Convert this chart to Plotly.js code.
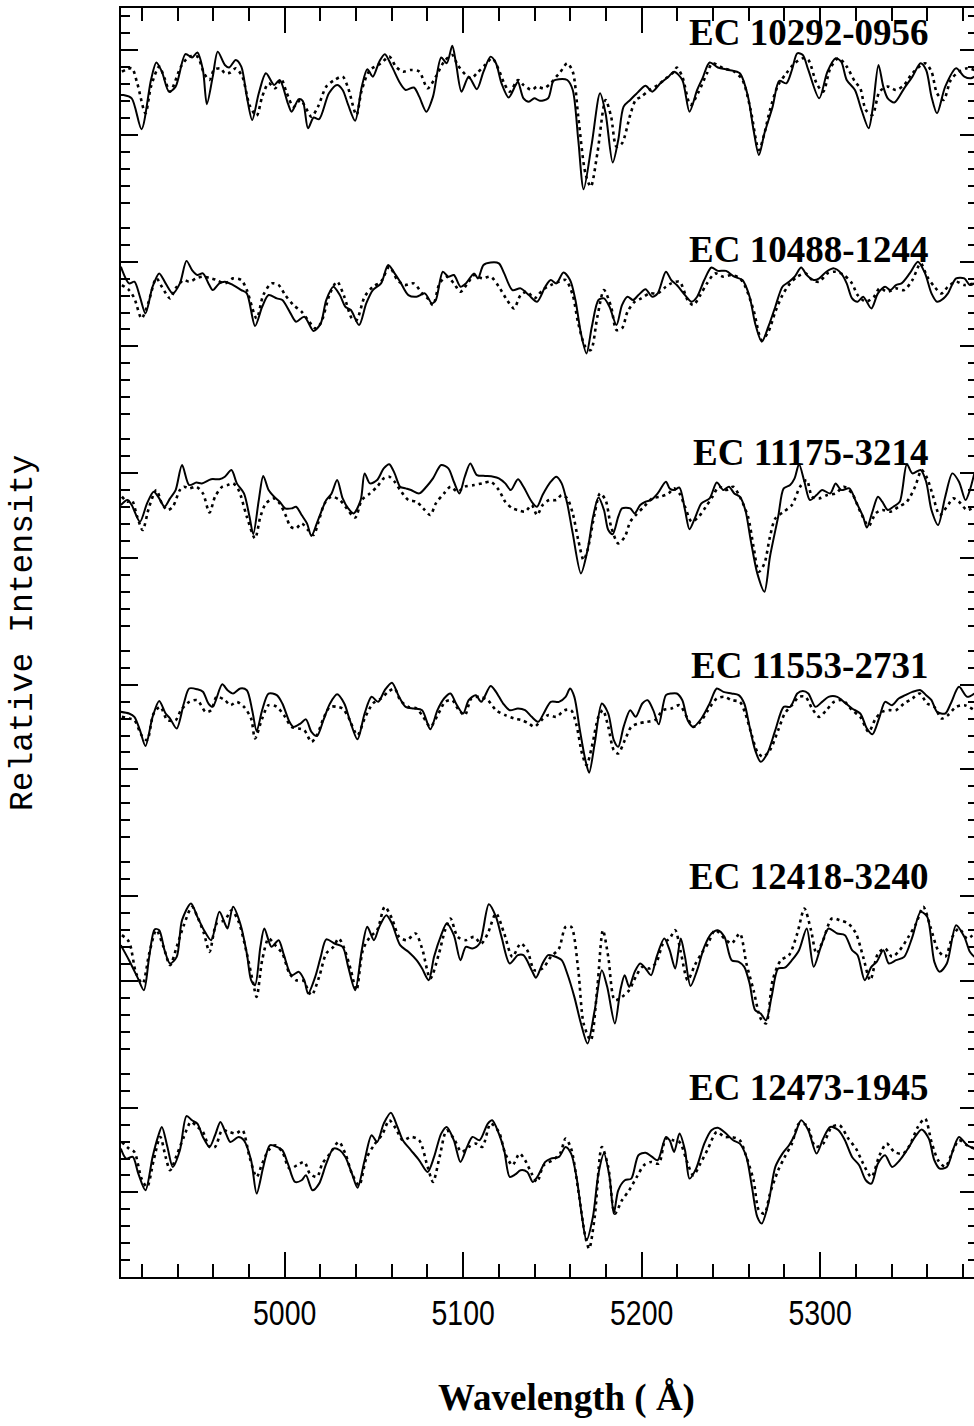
<!DOCTYPE html>
<html>
<head>
<meta charset="utf-8">
<script src="https://cdn.plot.ly/plotly-3.0.1.min.js"></script>
<style>
html,body{margin:0;padding:0;background:#fff;overflow:hidden;}
#chart{width:980px;height:1426px;}
</style>
</head>
<body>
<div id="chart"></div>
<script>
// ---------------- DATA ----------------
const labels = ['EC 10292-0956','EC 10488-1244','EC 11175-3214','EC 11553-2731','EC 12418-3240','EC 12473-1945'];

const s1_wave = [4908.2,4909.7,4914.3,4919.8,4925.1,4928.1,4931.2,4935.2,4938.9,4944.4,4948.1,4951.1,4954.2,4956.4,4959.7,4962.5,4966.5,4968.9,4972.6,4975.7,4978.8,4981.8,4985.5,4989.5,4994.1,4997.2,5001.8,5003.9,5007.9,5010.1,5013.1,5016.2,5019.3,5024.8,5029.4,5032.5,5035.6,5039.5,5043.2,5046.3,5049.4,5053.0,5056.1,5060.1,5064.7,5067.8,5072.4,5075.4,5079.4,5083.1,5087.7,5090.8,5093.9,5096.0,5099.1,5103.1,5107.7,5111.4,5115.4,5118.4,5121.5,5125.5,5129.2,5130.7,5133.8,5136.8,5139.9,5143.0,5147.6,5150.6,5153.7,5158.3,5161.4,5164.5,5167.5,5172.1,5176.7,5179.8,5183.8,5186.9,5189.9,5193.6,5198.2,5202.2,5205.9,5210.5,5215.1,5218.2,5222.8,5226.8,5231.1,5234.1,5238.1,5242.7,5248.9,5255.0,5259.6,5262.7,5265.7,5268.8,5273.4,5277.1,5281.1,5284.2,5287.2,5290.3,5293.4,5299.5,5304.1,5308.7,5311.8,5314.9,5319.5,5323.2,5327.2,5329.6,5332.7,5335.4,5337.9,5341.6,5347.1,5351.7,5356.3,5359.4,5362.4,5365.5,5370.1,5376.2,5380.8,5384.5,5386.4];
const s1_flux = [0.894,0.894,0.886,0.812,0.930,0.972,0.950,0.902,0.914,0.992,0.984,0.996,0.954,0.872,0.938,0.998,0.966,0.960,0.978,0.962,0.890,0.834,0.898,0.946,0.918,0.930,0.874,0.854,0.884,0.880,0.814,0.840,0.836,0.898,0.918,0.906,0.870,0.832,0.914,0.956,0.938,0.974,0.992,0.962,0.922,0.906,0.912,0.890,0.854,0.890,0.984,0.970,1.012,0.970,0.902,0.938,0.908,0.950,0.986,0.970,0.922,0.888,0.916,0.926,0.886,0.878,0.886,0.880,0.886,0.928,0.932,0.930,0.906,0.786,0.668,0.778,0.898,0.850,0.732,0.786,0.866,0.882,0.902,0.916,0.902,0.922,0.938,0.950,0.930,0.854,0.906,0.934,0.972,0.960,0.954,0.946,0.890,0.810,0.750,0.802,0.866,0.928,0.922,0.954,0.994,0.990,0.954,0.886,0.950,0.982,0.974,0.930,0.906,0.858,0.814,0.866,0.966,0.914,0.886,0.876,0.910,0.938,0.970,0.954,0.890,0.850,0.914,0.958,0.938,0.934,0.938];
const m1_wave = [4908.8,4914.3,4917.4,4922.0,4925.1,4929.7,4932.7,4935.8,4941.9,4946.5,4951.1,4954.8,4957.9,4960.4,4964.0,4966.5,4969.6,4972.6,4976.3,4980.3,4984.3,4987.4,4991.0,4994.7,4998.1,5000.9,5004.9,5008.8,5011.0,5015.0,5018.7,5023.3,5027.9,5032.5,5035.6,5040.2,5043.2,5047.8,5054.0,5058.6,5062.3,5066.2,5070.8,5075.4,5080.1,5084.7,5089.3,5093.9,5096.9,5101.5,5104.6,5107.7,5112.3,5116.3,5120.0,5123.0,5126.1,5130.7,5133.8,5138.4,5141.4,5145.1,5149.1,5152.2,5154.3,5158.3,5161.4,5164.5,5168.5,5171.5,5175.2,5179.8,5182.9,5185.9,5189.0,5193.6,5196.7,5199.8,5204.4,5209.0,5213.6,5218.2,5219.7,5222.8,5227.4,5232.0,5236.6,5239.7,5245.8,5251.9,5256.5,5261.1,5265.7,5268.8,5271.9,5276.5,5281.1,5285.7,5290.3,5293.4,5298.0,5301.7,5305.7,5310.3,5314.9,5319.5,5322.5,5325.6,5329.3,5333.3,5337.9,5342.5,5347.1,5351.7,5358.8,5362.4,5365.5,5369.2,5373.2,5377.8,5382.4,5386.4];
const m1_flux = [0.950,0.958,0.922,0.850,0.914,0.962,0.934,0.902,0.962,0.986,0.986,0.946,0.930,0.954,0.958,0.946,0.948,0.958,0.938,0.870,0.844,0.890,0.922,0.910,0.932,0.902,0.866,0.882,0.870,0.842,0.866,0.914,0.930,0.938,0.910,0.846,0.906,0.954,0.970,0.986,0.962,0.950,0.954,0.950,0.910,0.938,0.974,0.990,0.966,0.942,0.934,0.946,0.966,0.982,0.954,0.922,0.902,0.930,0.918,0.906,0.914,0.910,0.922,0.938,0.948,0.970,0.950,0.842,0.706,0.674,0.754,0.882,0.842,0.770,0.778,0.846,0.882,0.890,0.906,0.918,0.934,0.950,0.960,0.938,0.870,0.902,0.946,0.970,0.958,0.950,0.930,0.858,0.762,0.802,0.858,0.918,0.946,0.970,0.982,0.978,0.922,0.902,0.958,0.982,0.962,0.926,0.910,0.858,0.846,0.902,0.914,0.906,0.918,0.946,0.970,0.950,0.898,0.882,0.930,0.950,0.958,0.954];

const s2_wave = [4908.2,4912.8,4915.8,4918.9,4922.0,4926.0,4929.7,4933.3,4937.3,4941.3,4945.0,4948.1,4951.1,4954.2,4957.3,4959.7,4963.4,4966.5,4971.1,4975.7,4978.8,4983.4,4987.4,4991.0,4995.6,4998.7,5003.3,5006.4,5011.0,5016.2,5020.2,5023.3,5027.3,5030.9,5034.0,5037.1,5041.7,5045.7,5049.4,5054.0,5058.0,5061.6,5064.7,5069.3,5073.9,5078.5,5082.5,5084.7,5088.6,5091.7,5094.8,5098.5,5101.5,5106.1,5108.3,5111.4,5115.4,5120.0,5123.0,5127.6,5132.2,5136.8,5141.4,5146.0,5149.1,5152.2,5156.2,5159.9,5162.9,5166.0,5169.1,5172.1,5175.8,5178.9,5182.0,5185.9,5189.0,5192.1,5195.2,5198.2,5202.2,5205.9,5209.0,5213.6,5216.6,5219.7,5224.3,5228.0,5231.1,5235.1,5239.1,5242.7,5247.3,5251.9,5256.5,5260.5,5263.6,5267.3,5271.0,5274.9,5278.9,5282.6,5285.7,5289.4,5292.5,5296.4,5299.5,5303.5,5307.8,5311.8,5314.9,5317.9,5321.0,5324.1,5328.7,5332.4,5336.4,5339.4,5342.5,5345.6,5350.2,5354.8,5358.8,5362.4,5365.5,5369.2,5371.6,5376.2,5380.8,5383.9,5386.4];
const s2_flux = [0.986,0.946,0.950,0.914,0.874,0.938,0.970,0.946,0.922,0.946,1.000,0.978,0.966,0.970,0.946,0.930,0.946,0.950,0.942,0.930,0.922,0.844,0.890,0.918,0.910,0.906,0.874,0.854,0.866,0.832,0.850,0.906,0.938,0.918,0.890,0.882,0.846,0.898,0.930,0.946,0.990,0.970,0.950,0.918,0.914,0.922,0.898,0.906,0.974,0.962,0.966,0.938,0.946,0.970,0.958,0.990,0.996,0.994,0.970,0.930,0.934,0.918,0.902,0.938,0.954,0.946,0.972,0.954,0.906,0.826,0.778,0.842,0.906,0.910,0.890,0.846,0.894,0.914,0.906,0.918,0.932,0.914,0.922,0.974,0.954,0.942,0.918,0.902,0.914,0.954,0.984,0.976,0.976,0.962,0.954,0.914,0.850,0.806,0.842,0.890,0.938,0.950,0.962,0.984,0.966,0.954,0.958,0.974,0.982,0.970,0.946,0.910,0.902,0.914,0.886,0.922,0.938,0.930,0.942,0.946,0.970,0.998,0.970,0.922,0.902,0.910,0.922,0.958,0.958,0.942,0.946];
const m2_wave = [4908.8,4912.8,4915.8,4919.8,4923.5,4928.1,4931.2,4935.8,4938.9,4943.5,4946.5,4950.5,4954.2,4958.8,4961.9,4966.5,4971.1,4975.7,4978.8,4984.3,4988.0,4992.6,4996.6,5000.3,5004.9,5009.5,5013.1,5017.1,5020.2,5025.4,5029.4,5033.4,5037.7,5040.2,5044.8,5049.4,5054.0,5058.6,5063.2,5067.2,5072.4,5077.0,5080.1,5083.1,5086.8,5090.8,5094.8,5098.5,5103.1,5106.1,5110.7,5115.4,5120.0,5124.6,5128.5,5132.2,5135.9,5139.9,5144.5,5149.1,5153.7,5157.4,5161.4,5164.5,5168.5,5171.5,5175.2,5178.9,5182.9,5185.9,5189.0,5192.1,5196.1,5199.8,5204.4,5209.0,5213.6,5216.6,5221.2,5225.8,5228.9,5232.9,5236.6,5241.2,5245.8,5250.4,5255.0,5258.1,5262.7,5267.3,5271.0,5274.9,5278.9,5283.2,5287.2,5291.8,5295.5,5299.5,5304.1,5308.7,5313.3,5317.9,5321.0,5325.6,5330.2,5333.3,5337.9,5342.5,5347.1,5351.7,5356.3,5360.0,5364.0,5368.0,5371.6,5376.2,5380.8,5386.4];
const m2_flux = [0.942,0.930,0.910,0.862,0.898,0.958,0.938,0.910,0.934,0.954,0.950,0.958,0.962,0.958,0.954,0.946,0.958,0.954,0.930,0.862,0.918,0.946,0.942,0.918,0.894,0.878,0.858,0.838,0.850,0.922,0.950,0.914,0.862,0.858,0.914,0.938,0.950,0.986,0.954,0.942,0.946,0.922,0.910,0.894,0.946,0.962,0.946,0.926,0.950,0.966,0.958,0.962,0.938,0.906,0.886,0.918,0.926,0.910,0.930,0.942,0.950,0.954,0.918,0.850,0.794,0.786,0.866,0.930,0.890,0.834,0.838,0.878,0.902,0.910,0.922,0.922,0.938,0.946,0.950,0.906,0.894,0.918,0.946,0.970,0.962,0.966,0.958,0.938,0.882,0.810,0.830,0.878,0.918,0.946,0.962,0.970,0.954,0.950,0.970,0.974,0.966,0.946,0.918,0.902,0.914,0.934,0.926,0.934,0.930,0.954,0.994,0.962,0.938,0.922,0.938,0.950,0.942,0.946];

const s3_wave = [4908.2,4911.9,4914.3,4918.9,4922.9,4926.6,4929.7,4932.7,4935.8,4938.9,4942.5,4946.5,4950.5,4953.6,4958.8,4963.4,4966.5,4970.2,4973.2,4977.2,4980.3,4982.4,4985.5,4988.0,4991.0,4994.1,4997.2,5000.3,5003.9,5006.4,5009.5,5012.5,5015.0,5018.7,5023.3,5026.3,5029.4,5032.5,5035.6,5038.6,5042.6,5044.8,5047.8,5051.8,5055.5,5058.6,5061.6,5064.7,5067.8,5070.8,5075.4,5079.4,5083.1,5087.7,5091.7,5094.8,5097.9,5100.9,5104.0,5107.7,5112.3,5116.9,5120.0,5123.6,5126.7,5130.7,5133.8,5138.4,5141.4,5144.5,5149.1,5152.2,5155.2,5158.3,5161.4,5166.0,5169.7,5172.8,5175.8,5178.9,5181.3,5183.8,5186.9,5189.0,5193.6,5196.1,5199.2,5202.2,5205.3,5209.0,5213.6,5215.7,5218.2,5221.2,5224.3,5226.8,5229.8,5233.5,5238.1,5242.1,5245.8,5248.9,5251.9,5255.0,5258.1,5261.1,5264.8,5268.8,5271.9,5276.5,5279.6,5283.2,5285.7,5288.2,5291.2,5294.3,5298.0,5301.1,5305.7,5308.7,5311.8,5316.4,5320.1,5324.1,5326.2,5329.3,5332.4,5334.8,5337.9,5341.0,5344.6,5348.6,5351.7,5356.3,5359.4,5362.4,5366.1,5370.1,5374.1,5377.8,5381.5,5383.9,5386.4];
const s3_flux = [0.894,0.906,0.894,0.854,0.898,0.926,0.910,0.890,0.910,0.930,0.990,0.942,0.948,0.946,0.956,0.956,0.962,0.978,0.946,0.922,0.866,0.824,0.906,0.964,0.930,0.914,0.902,0.886,0.886,0.890,0.870,0.850,0.820,0.858,0.906,0.922,0.954,0.910,0.886,0.874,0.906,0.970,0.946,0.954,0.982,0.992,0.970,0.938,0.934,0.930,0.922,0.938,0.958,0.990,0.982,0.950,0.922,0.962,0.994,0.966,0.964,0.962,0.958,0.946,0.930,0.956,0.938,0.902,0.890,0.918,0.950,0.962,0.946,0.898,0.826,0.730,0.786,0.866,0.912,0.882,0.834,0.824,0.866,0.886,0.886,0.874,0.894,0.902,0.906,0.922,0.950,0.934,0.930,0.936,0.882,0.836,0.862,0.898,0.910,0.948,0.930,0.938,0.922,0.914,0.882,0.810,0.730,0.686,0.770,0.866,0.934,0.942,0.958,0.992,0.950,0.906,0.918,0.930,0.922,0.946,0.930,0.934,0.902,0.866,0.840,0.878,0.914,0.902,0.882,0.890,0.902,0.992,0.970,0.978,0.950,0.882,0.846,0.914,0.970,0.950,0.906,0.930,0.970];
const m3_wave = [4908.8,4911.9,4914.3,4917.4,4920.4,4924.1,4928.1,4931.2,4934.3,4937.3,4941.3,4943.5,4946.5,4950.5,4954.2,4957.9,4961.0,4965.0,4968.0,4971.1,4974.2,4978.8,4983.4,4986.4,4989.5,4994.1,4997.2,5000.9,5003.3,5006.4,5009.5,5013.1,5016.2,5018.7,5022.4,5026.3,5030.9,5034.0,5039.5,5043.2,5047.8,5051.8,5055.5,5058.6,5061.6,5064.7,5069.3,5073.9,5077.6,5081.6,5084.7,5089.3,5092.9,5096.9,5100.9,5106.1,5110.7,5115.4,5120.0,5123.6,5127.6,5130.7,5134.7,5138.4,5141.4,5144.5,5148.2,5152.2,5155.2,5158.3,5161.4,5164.5,5167.5,5169.7,5173.7,5176.7,5179.8,5182.9,5186.9,5190.6,5193.6,5196.7,5201.3,5205.9,5210.5,5215.1,5218.2,5221.2,5224.3,5228.0,5232.0,5236.0,5239.7,5243.3,5247.3,5251.3,5255.0,5259.6,5262.7,5265.7,5268.8,5271.9,5274.9,5279.6,5284.2,5288.8,5292.5,5295.5,5299.5,5304.1,5308.7,5313.3,5317.9,5322.5,5327.2,5331.1,5334.8,5339.4,5344.0,5348.6,5353.2,5356.9,5360.0,5363.1,5367.0,5371.0,5374.7,5377.8,5382.4,5386.4];
const m3_flux = [0.914,0.902,0.906,0.866,0.834,0.890,0.930,0.898,0.882,0.890,0.930,0.938,0.934,0.938,0.922,0.876,0.914,0.938,0.942,0.946,0.930,0.866,0.814,0.866,0.898,0.910,0.898,0.866,0.842,0.838,0.850,0.834,0.822,0.850,0.898,0.914,0.906,0.890,0.864,0.906,0.922,0.938,0.958,0.962,0.950,0.930,0.906,0.902,0.886,0.870,0.898,0.922,0.938,0.926,0.938,0.942,0.946,0.950,0.930,0.902,0.886,0.882,0.878,0.894,0.870,0.894,0.906,0.906,0.918,0.910,0.874,0.810,0.762,0.786,0.874,0.922,0.906,0.842,0.802,0.818,0.854,0.870,0.890,0.910,0.914,0.922,0.934,0.922,0.890,0.854,0.866,0.890,0.914,0.938,0.930,0.938,0.914,0.866,0.794,0.734,0.754,0.818,0.862,0.878,0.894,0.938,0.954,0.914,0.910,0.918,0.922,0.938,0.922,0.878,0.844,0.874,0.882,0.878,0.890,0.902,0.938,0.978,0.958,0.918,0.870,0.890,0.910,0.902,0.882,0.890];

const s4_wave = [4908.2,4912.8,4915.8,4918.9,4922.0,4926.0,4929.7,4933.3,4935.8,4939.5,4943.5,4946.5,4951.1,4954.2,4957.3,4959.7,4965.0,4968.0,4971.1,4975.1,4978.8,4981.8,4984.3,4987.4,4991.0,4995.6,4998.7,5002.7,5004.9,5008.8,5011.9,5015.0,5018.1,5021.7,5025.4,5029.4,5033.4,5036.5,5040.8,5044.8,5048.7,5052.4,5056.1,5060.1,5064.1,5067.8,5072.4,5077.0,5081.6,5085.6,5089.3,5092.9,5096.0,5100.0,5103.1,5107.1,5110.1,5115.4,5118.4,5122.4,5126.1,5130.7,5134.7,5138.4,5142.1,5145.1,5149.1,5153.7,5157.4,5159.9,5162.3,5165.4,5168.5,5170.6,5173.7,5177.7,5181.3,5184.4,5186.9,5189.9,5193.6,5196.7,5200.4,5203.4,5206.5,5209.6,5213.6,5216.6,5219.7,5222.8,5225.8,5228.9,5233.5,5238.1,5242.1,5245.8,5250.4,5254.4,5257.5,5260.5,5263.6,5266.7,5270.4,5274.9,5279.6,5283.2,5287.2,5290.3,5293.4,5297.4,5301.1,5304.7,5309.6,5313.3,5317.9,5322.5,5326.2,5329.3,5333.3,5336.4,5340.3,5344.0,5347.7,5351.7,5356.3,5359.4,5362.4,5365.5,5370.1,5373.2,5377.8,5382.4,5386.4];
const s4_flux = [0.926,0.922,0.914,0.882,0.844,0.914,0.952,0.922,0.910,0.886,0.946,0.982,0.980,0.974,0.946,0.938,0.992,0.978,0.970,0.982,0.978,0.930,0.880,0.930,0.970,0.966,0.946,0.902,0.890,0.898,0.908,0.878,0.868,0.906,0.946,0.968,0.946,0.906,0.860,0.922,0.962,0.950,0.978,0.996,0.962,0.938,0.934,0.930,0.884,0.930,0.958,0.970,0.946,0.922,0.954,0.966,0.950,0.988,0.974,0.946,0.930,0.934,0.930,0.914,0.902,0.922,0.950,0.950,0.962,0.982,0.962,0.882,0.810,0.780,0.850,0.946,0.922,0.858,0.842,0.890,0.930,0.914,0.946,0.954,0.930,0.896,0.966,0.970,0.970,0.954,0.906,0.890,0.910,0.946,0.982,0.974,0.970,0.966,0.946,0.890,0.834,0.806,0.826,0.882,0.938,0.938,0.970,0.976,0.970,0.938,0.950,0.962,0.962,0.950,0.934,0.922,0.886,0.872,0.914,0.950,0.942,0.958,0.966,0.974,0.978,0.966,0.954,0.926,0.922,0.946,0.986,0.962,0.970];
const m4_wave = [4908.8,4912.8,4915.8,4919.8,4922.9,4926.6,4930.3,4934.3,4938.9,4941.9,4946.5,4951.1,4955.7,4958.8,4961.9,4966.5,4969.6,4973.2,4977.2,4981.2,4983.4,4987.4,4991.0,4995.6,4999.6,5003.9,5007.9,5011.0,5015.0,5018.1,5021.7,5025.4,5029.4,5032.5,5035.6,5040.8,5044.8,5049.4,5054.0,5058.0,5061.6,5064.7,5069.3,5073.9,5077.6,5081.6,5086.2,5089.9,5093.9,5096.9,5100.9,5104.6,5109.2,5113.8,5118.4,5123.6,5128.5,5132.8,5136.8,5139.9,5143.9,5147.6,5152.2,5156.8,5160.5,5163.5,5166.6,5169.1,5172.1,5175.8,5178.3,5181.3,5184.4,5186.9,5190.6,5194.2,5198.2,5202.8,5207.4,5212.0,5216.6,5221.2,5225.8,5228.9,5232.9,5237.2,5242.1,5246.4,5250.4,5255.0,5258.1,5261.7,5264.8,5267.9,5271.9,5276.5,5280.2,5284.2,5288.2,5291.8,5295.5,5299.5,5303.5,5307.8,5312.7,5317.9,5322.5,5327.2,5331.1,5334.8,5338.5,5342.5,5347.1,5351.7,5355.7,5360.0,5364.0,5368.0,5371.6,5376.2,5380.8,5386.4];
const m4_flux = [0.914,0.910,0.906,0.870,0.858,0.922,0.938,0.906,0.906,0.930,0.950,0.954,0.926,0.930,0.962,0.954,0.942,0.950,0.938,0.910,0.862,0.910,0.942,0.938,0.918,0.890,0.886,0.882,0.854,0.870,0.910,0.938,0.938,0.934,0.914,0.870,0.910,0.946,0.958,0.974,0.982,0.954,0.938,0.934,0.914,0.890,0.922,0.950,0.954,0.934,0.918,0.958,0.962,0.954,0.930,0.918,0.910,0.906,0.898,0.890,0.906,0.918,0.914,0.930,0.930,0.894,0.826,0.798,0.842,0.914,0.930,0.890,0.834,0.826,0.858,0.890,0.898,0.902,0.906,0.930,0.934,0.942,0.910,0.890,0.902,0.930,0.958,0.962,0.954,0.950,0.922,0.870,0.830,0.818,0.834,0.882,0.922,0.942,0.962,0.962,0.934,0.914,0.930,0.950,0.954,0.930,0.914,0.878,0.910,0.926,0.930,0.930,0.946,0.958,0.970,0.946,0.938,0.910,0.918,0.938,0.942,0.930];

const s5_wave = [4908.2,4912.8,4917.4,4921.1,4924.1,4927.2,4929.7,4932.7,4935.8,4939.5,4942.5,4947.5,4951.1,4954.8,4958.8,4963.4,4966.5,4968.0,4971.1,4975.1,4978.8,4981.2,4983.4,4986.4,4988.6,4992.6,4996.6,4999.6,5003.9,5007.9,5011.0,5013.1,5017.1,5020.2,5023.3,5027.9,5032.5,5035.6,5039.5,5043.2,5046.3,5050.0,5053.0,5057.0,5060.1,5064.7,5069.3,5073.9,5077.0,5080.7,5083.7,5087.7,5090.8,5094.8,5098.5,5101.5,5105.2,5109.2,5114.4,5118.4,5121.5,5126.1,5130.7,5133.8,5138.4,5140.8,5144.5,5147.6,5150.6,5155.2,5158.3,5162.3,5166.0,5169.7,5173.7,5177.7,5180.7,5185.0,5188.1,5190.5,5193.0,5196.1,5199.2,5202.2,5205.3,5208.4,5212.7,5215.7,5218.8,5221.9,5224.3,5227.4,5231.1,5235.1,5239.1,5242.7,5246.4,5250.4,5254.4,5257.5,5260.5,5263.6,5266.7,5269.7,5272.8,5276.5,5280.2,5284.2,5288.2,5292.5,5296.4,5300.4,5304.7,5309.6,5313.9,5317.9,5321.0,5325.0,5328.7,5331.7,5335.4,5338.5,5342.5,5347.1,5351.7,5356.3,5360.0,5364.0,5367.0,5371.0,5376.2,5380.8,5383.9,5386.4];
const s5_flux = [0.894,0.858,0.818,0.786,0.866,0.932,0.930,0.882,0.850,0.866,0.954,0.994,0.962,0.930,0.906,0.974,0.946,0.934,0.986,0.946,0.874,0.810,0.798,0.890,0.934,0.890,0.906,0.870,0.822,0.830,0.810,0.778,0.818,0.866,0.908,0.898,0.890,0.842,0.786,0.882,0.938,0.906,0.938,0.966,0.946,0.894,0.878,0.858,0.838,0.810,0.866,0.918,0.946,0.918,0.858,0.890,0.886,0.898,0.992,0.962,0.914,0.850,0.870,0.870,0.834,0.816,0.850,0.870,0.868,0.858,0.826,0.770,0.706,0.658,0.738,0.834,0.794,0.706,0.786,0.822,0.794,0.830,0.850,0.838,0.822,0.866,0.910,0.882,0.838,0.910,0.866,0.796,0.834,0.890,0.922,0.930,0.914,0.858,0.854,0.842,0.802,0.738,0.730,0.714,0.770,0.838,0.840,0.858,0.882,0.934,0.842,0.890,0.934,0.922,0.918,0.882,0.870,0.810,0.842,0.854,0.882,0.850,0.858,0.866,0.914,0.974,0.962,0.854,0.830,0.850,0.942,0.914,0.878,0.866];
const m5_wave = [4908.8,4912.8,4916.8,4920.4,4924.1,4928.1,4932.1,4935.8,4939.5,4943.5,4948.1,4951.1,4954.8,4957.9,4961.9,4966.5,4970.2,4974.2,4978.8,4982.4,4984.3,4987.4,4991.0,4994.7,4998.7,5002.7,5006.4,5010.1,5015.0,5019.3,5023.3,5027.3,5030.3,5033.4,5037.1,5040.2,5043.8,5047.8,5051.8,5056.1,5060.1,5064.1,5068.4,5073.3,5077.0,5081.6,5086.2,5089.9,5092.9,5096.9,5101.5,5106.1,5110.1,5113.8,5118.4,5123.0,5127.6,5132.2,5135.9,5139.9,5144.5,5149.1,5153.7,5157.4,5160.5,5164.5,5167.5,5171.5,5175.2,5178.3,5181.3,5185.0,5189.0,5193.0,5196.7,5200.4,5204.4,5208.4,5212.0,5215.7,5218.8,5221.9,5225.8,5229.8,5233.5,5237.2,5241.2,5246.4,5250.4,5255.0,5258.7,5262.7,5266.7,5269.7,5273.4,5278.0,5282.6,5287.2,5291.2,5294.9,5298.0,5301.7,5306.6,5310.9,5315.8,5320.1,5324.1,5328.1,5332.4,5336.4,5340.3,5344.6,5349.5,5353.8,5357.8,5361.8,5366.1,5370.1,5374.1,5377.8,5382.4,5386.4];
const m5_flux = [0.918,0.902,0.826,0.802,0.874,0.930,0.890,0.846,0.890,0.942,0.986,0.962,0.922,0.878,0.946,0.954,0.978,0.950,0.874,0.802,0.770,0.858,0.910,0.894,0.874,0.826,0.810,0.810,0.774,0.818,0.874,0.890,0.910,0.886,0.834,0.786,0.882,0.914,0.930,0.986,0.958,0.914,0.906,0.922,0.886,0.814,0.870,0.930,0.958,0.914,0.906,0.914,0.898,0.922,0.970,0.922,0.866,0.898,0.882,0.834,0.838,0.866,0.886,0.938,0.938,0.834,0.706,0.666,0.794,0.930,0.866,0.762,0.770,0.786,0.818,0.842,0.838,0.854,0.898,0.910,0.930,0.878,0.810,0.846,0.874,0.898,0.930,0.910,0.898,0.922,0.850,0.786,0.718,0.706,0.810,0.858,0.870,0.922,0.982,0.930,0.874,0.906,0.958,0.954,0.946,0.922,0.866,0.810,0.874,0.886,0.866,0.882,0.914,0.946,0.986,0.938,0.882,0.866,0.914,0.934,0.910,0.922];

const s6_wave = [4908.2,4911.2,4914.9,4918.0,4922.0,4926.0,4929.0,4931.2,4934.3,4937.3,4941.3,4945.0,4948.1,4951.1,4954.2,4957.9,4961.0,4964.0,4967.1,4969.6,4974.2,4977.2,4981.2,4984.3,4988.0,4991.7,4995.6,4998.7,5001.8,5005.8,5009.5,5011.9,5015.6,5019.3,5023.3,5027.3,5030.9,5034.0,5037.7,5040.8,5044.8,5048.7,5051.8,5055.5,5059.5,5063.2,5066.2,5070.8,5075.4,5080.1,5083.7,5087.7,5090.8,5094.8,5098.5,5102.2,5105.2,5109.2,5113.8,5116.3,5120.0,5123.0,5126.1,5129.2,5132.2,5135.9,5139.0,5142.1,5146.0,5149.1,5153.7,5157.4,5160.5,5163.5,5166.6,5169.1,5172.7,5175.8,5178.9,5182.0,5184.4,5186.9,5190.6,5194.2,5198.2,5202.2,5205.9,5209.0,5213.6,5215.7,5218.2,5221.2,5224.3,5226.8,5230.5,5235.1,5239.1,5242.7,5247.3,5251.3,5255.0,5258.7,5261.8,5264.8,5267.3,5271.0,5274.9,5278.9,5282.6,5285.7,5289.4,5293.4,5298.0,5301.7,5305.7,5310.3,5313.9,5317.9,5321.9,5325.6,5328.7,5332.4,5336.4,5340.3,5344.6,5348.6,5353.2,5356.9,5360.9,5364.0,5367.0,5371.0,5374.7,5377.8,5382.4,5386.4];
const s6_flux = [0.910,0.886,0.890,0.850,0.810,0.890,0.938,0.962,0.914,0.866,0.906,0.988,0.978,0.970,0.938,0.914,0.942,0.974,0.946,0.926,0.938,0.930,0.882,0.802,0.866,0.918,0.914,0.906,0.874,0.830,0.834,0.846,0.810,0.826,0.874,0.910,0.906,0.890,0.850,0.816,0.882,0.942,0.926,0.970,0.996,0.962,0.930,0.906,0.882,0.854,0.890,0.946,0.962,0.930,0.878,0.914,0.938,0.930,0.970,0.978,0.946,0.906,0.842,0.848,0.858,0.854,0.830,0.846,0.878,0.886,0.890,0.914,0.898,0.842,0.746,0.690,0.746,0.850,0.898,0.842,0.754,0.810,0.834,0.838,0.894,0.900,0.890,0.882,0.938,0.930,0.902,0.946,0.906,0.838,0.862,0.922,0.954,0.960,0.946,0.930,0.922,0.890,0.818,0.746,0.730,0.778,0.866,0.898,0.918,0.942,0.978,0.954,0.898,0.934,0.962,0.954,0.930,0.890,0.870,0.834,0.826,0.874,0.894,0.866,0.882,0.906,0.938,0.956,0.934,0.882,0.862,0.866,0.910,0.938,0.918,0.910];
const m6_wave = [4908.8,4912.8,4915.8,4919.8,4922.9,4926.6,4930.3,4933.3,4935.8,4939.5,4943.5,4947.5,4951.1,4954.2,4957.9,4961.0,4965.0,4968.9,4972.6,4976.3,4980.3,4984.3,4987.4,4991.0,4994.7,4998.7,5002.7,5007.0,5011.0,5014.1,5018.1,5021.1,5025.4,5030.3,5034.0,5037.7,5041.7,5045.7,5050.0,5054.9,5058.6,5062.3,5066.2,5070.8,5075.4,5080.1,5083.1,5086.8,5090.8,5094.8,5099.1,5103.1,5107.1,5110.7,5115.4,5120.0,5123.6,5127.6,5131.6,5134.7,5138.4,5141.4,5145.1,5150.0,5154.3,5157.4,5160.5,5164.5,5168.5,5170.6,5173.7,5177.7,5181.3,5185.0,5189.0,5193.0,5197.3,5201.3,5205.3,5209.6,5213.6,5217.6,5221.2,5225.8,5228.9,5232.9,5237.2,5242.1,5246.4,5250.4,5255.0,5258.1,5262.7,5265.7,5268.8,5271.9,5276.5,5280.2,5284.2,5288.2,5292.5,5297.4,5301.7,5306.6,5310.9,5315.8,5320.1,5324.1,5328.7,5333.3,5337.3,5341.6,5346.5,5350.2,5354.8,5358.8,5362.4,5366.1,5370.1,5374.1,5377.8,5382.4,5386.4];
const m6_flux = [0.926,0.910,0.902,0.838,0.818,0.882,0.938,0.890,0.858,0.894,0.938,0.974,0.962,0.950,0.914,0.914,0.954,0.950,0.946,0.954,0.890,0.842,0.874,0.906,0.918,0.902,0.862,0.870,0.878,0.850,0.842,0.874,0.898,0.926,0.898,0.850,0.822,0.886,0.918,0.946,0.978,0.958,0.930,0.938,0.930,0.866,0.830,0.890,0.954,0.934,0.902,0.914,0.922,0.914,0.970,0.950,0.898,0.870,0.898,0.882,0.850,0.830,0.870,0.882,0.898,0.934,0.910,0.810,0.698,0.670,0.746,0.914,0.866,0.754,0.786,0.810,0.842,0.870,0.878,0.874,0.934,0.930,0.926,0.874,0.846,0.874,0.910,0.950,0.938,0.938,0.930,0.898,0.834,0.762,0.754,0.802,0.858,0.890,0.922,0.970,0.966,0.914,0.922,0.962,0.966,0.934,0.910,0.874,0.842,0.894,0.922,0.902,0.898,0.918,0.962,0.982,0.926,0.882,0.866,0.902,0.930,0.918,0.910];

// ---------------- BUILD ----------------
const obsWave = [s1_wave,s2_wave,s3_wave,s4_wave,s5_wave,s6_wave];
const obsFlux = [s1_flux,s2_flux,s3_flux,s4_flux,s5_flux,s6_flux];
const modWave = [m1_wave,m2_wave,m3_wave,m4_wave,m5_wave,m6_wave];
const modFlux = [m1_flux,m2_flux,m3_flux,m4_flux,m5_flux,m6_flux];

// panel y-ranges (bottom values); each panel spans 0.5075 units
const panelBottoms = [0.5952,0.5918,0.5642,0.5849,0.6053,0.6019];
const SPAN = 0.5075, MAJ = 0.203, MIN = 0.0406;
const NP = 6;

const traces = [];
for (let k = 0; k < NP; k++) {
  const ya = k === 0 ? 'y' : 'y' + (k + 1);
  traces.push({x: modWave[k], y: modFlux[k], xaxis: 'x', yaxis: ya, type: 'scatter', mode: 'lines',
    line: {color: '#000', width: 2.6, dash: '3px,4px', shape: 'spline', smoothing: 0.8}, hoverinfo: 'skip', showlegend: false});
  traces.push({x: obsWave[k], y: obsFlux[k], xaxis: 'x', yaxis: ya, type: 'scatter', mode: 'lines',
    line: {color: '#000', width: 2, shape: 'spline', smoothing: 0.8}, hoverinfo: 'skip', showlegend: false});
}
traces.push({x: [], y: [], xaxis: 'x2', yaxis: 'y', type: 'scatter', mode: 'lines', showlegend: false});

const XR = [4908.3, 5387.9];
const layout = {
  width: 980, height: 1426,
  margin: {l: 121, r: 3, t: 8, b: 149, pad: 0},
  paper_bgcolor: '#fff', plot_bgcolor: 'rgba(0,0,0,0)',
  showlegend: false,
  xaxis: {
    range: XR, anchor: 'y6', side: 'bottom',
    tick0: 5000, dtick: 100, ticks: 'inside', ticklen: 25, tickwidth: 2, tickcolor: '#000',
    minor: {tick0: 5000, dtick: 20, ticks: 'inside', ticklen: 13, tickwidth: 2, tickcolor: '#000'},
    showline: true, linewidth: 2, linecolor: '#000', mirror: false,
    showgrid: false, zeroline: false,
    tickfont: {family: 'Liberation Sans, Arial, sans-serif', size: 36, color: '#000'},
    ticklabelstandoff: 3
  },
  xaxis2: {
    range: XR, overlaying: 'x', anchor: 'y', side: 'top',
    tick0: 5000, dtick: 100, ticks: 'inside', ticklen: 25, tickwidth: 2, tickcolor: '#000',
    minor: {tick0: 5000, dtick: 20, ticks: 'inside', ticklen: 13, tickwidth: 2, tickcolor: '#000'},
    showline: true, linewidth: 2, linecolor: '#000',
    showgrid: false, zeroline: false, showticklabels: false
  },
  annotations: []
};

const labelOffsets = [24, 30, 22, 22.5, 22, 22];
for (let k = 0; k < NP; k++) {
  const key = k === 0 ? 'yaxis' : 'yaxis' + (k + 1);
  const b = panelBottoms[k];
  layout[key] = {
    domain: [1 - (k + 1) / NP, 1 - k / NP],
    range: [b, b + SPAN], anchor: 'x',
    tick0: b, dtick: MAJ, ticks: 'inside', ticklen: 17, tickwidth: 2, tickcolor: '#000',
    minor: {tick0: b, dtick: MIN, ticks: 'inside', ticklen: 9, tickwidth: 2, tickcolor: '#000'},
    showticklabels: false, showline: true, linewidth: 2, linecolor: '#000', mirror: 'ticks',
    showgrid: false, zeroline: false
  };
  layout.annotations.push({
    text: labels[k], xref: 'paper', x: 0.945, xanchor: 'right',
    yref: (k === 0 ? 'y' : 'y' + (k + 1)) + ' domain', y: 1, yanchor: 'middle', yshift: -labelOffsets[k],
    showarrow: false,
    font: {family: 'Liberation Serif, DejaVu Serif, serif', size: 37, color: '#000', weight: 'bold'}
  });
}

layout.annotations.push({
  text: 'Wavelength ( Å)', xref: 'paper', x: 0.52, xanchor: 'center',
  yref: 'paper', y: -0.0956, yanchor: 'middle', showarrow: false,
  font: {family: 'Liberation Serif, DejaVu Serif, serif', size: 37, color: '#000', weight: 'bold'}
});
layout.annotations.push({
  text: 'Relative Intensity', xref: 'paper', x: -0.1145, xanchor: 'center',
  yref: 'paper', y: 0.5074, yanchor: 'middle', textangle: -90, showarrow: false,
  font: {family: 'Liberation Mono, DejaVu Sans Mono, monospace', size: 33, color: '#000'}
});

Plotly.newPlot('chart', traces, layout, {staticPlot: true, displayModeBar: false}).then(function (gd) {
  // narrow the tick-label glyphs horizontally (reference uses a condensed face)
  gd.querySelectorAll('.xtick text').forEach(function (t) {
    const bb = t.getBBox();
    const cx = bb.x + bb.width / 2;
    const tr = t.getAttribute('transform') || '';
    t.setAttribute('transform', tr + ' translate(' + cx + ',0) scale(0.79,1) translate(' + (-cx) + ',0)');
  });
});
</script>
</body>
</html>
